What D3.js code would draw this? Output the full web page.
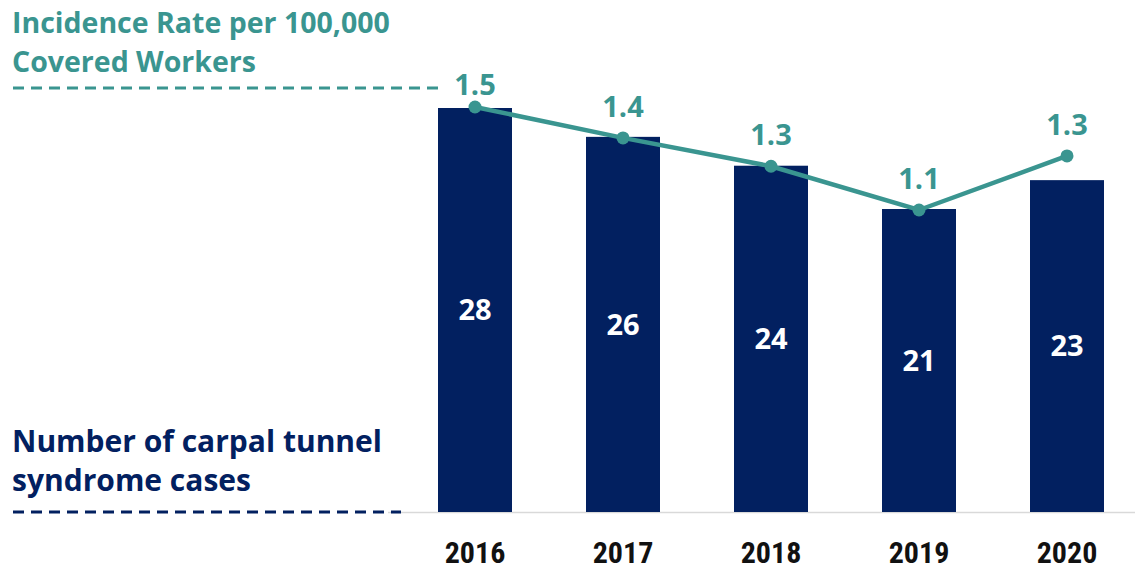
<!DOCTYPE html>
<html lang="en">
<head>
  <meta charset="UTF-8">
  <title>Carpal tunnel syndrome cases</title>
  <script src="https://d3js.org/d3.v7.min.js"></script>
  <style>
    body { margin: 0; background: #fff; }
    svg text { font-family: "Open Sans", sans-serif; font-weight: bold; }
    .year { font-family: "Liberation Sans Narrow", "Roboto Condensed", sans-serif; font-stretch: condensed; }
  </style>
</head>
<body>
  <svg id="chart" width="1135" height="569"></svg>
  <script>
    // data
    const years = ["2016", "2017", "2018", "2019", "2020"];
    const cases = [28, 26, 24, 21, 23];
    const rates = [1.5, 1.38, 1.27, 1.1, 1.31];

    const navy = "#022060";
    const teal = "#3A9590";

    const svg = d3.select("#chart");
    const baseY = 512;

    const x = d3.scaleBand()
      .domain(years)
      .range([401, 1141])
      .paddingInner(0.5)
      .paddingOuter(0.25);

    // bars: 0 at baseline, ~14.43 px per case
    const y = d3.scaleLinear().domain([0, 28]).range([baseY, 108]);
    // line has its own scale
    const yRate = d3.scaleLinear().domain([1.1, 1.5]).range([210, 107]);

    // baseline
    svg.append("line")
      .attr("x1", 388).attr("x2", 1135)
      .attr("y1", baseY + 0.5).attr("y2", baseY + 0.5)
      .attr("stroke", "#d9d9d9").attr("stroke-width", 1.5);

    svg.selectAll(".bar")
      .data(cases)
      .enter().append("rect")
      .attr("class", "bar")
      .attr("x", (d, i) => x(years[i]))
      .attr("width", x.bandwidth())
      .attr("y", d => y(d))
      .attr("height", d => baseY - y(d))
      .attr("fill", navy);

    svg.selectAll(".barLabel")
      .data(cases)
      .enter().append("text")
      .attr("class", "barLabel")
      .attr("x", (d, i) => x(years[i]) + x.bandwidth() / 2)
      .attr("y", d => (y(d) + baseY) / 2)
      .attr("dy", "0.35em")
      .attr("text-anchor", "middle")
      .attr("fill", "#fff")
      .attr("font-size", 29)
      .text(d => d);

    // year axis labels
    svg.selectAll(".year")
      .data(years)
      .enter().append("text")
      .attr("class", "year")
      .attr("x", d => x(d) + x.bandwidth() / 2)
      .attr("y", 563)
      .attr("text-anchor", "middle")
      .attr("fill", "#111")
      .attr("font-size", 30)
      .text(d => d);

    // rate line
    const line = d3.line()
      .x((d, i) => x(years[i]) + x.bandwidth() / 2)
      .y(d => yRate(d));

    svg.append("path")
      .datum(rates)
      .attr("d", line)
      .attr("fill", "none")
      .attr("stroke", teal)
      .attr("stroke-width", 4.5);

    svg.selectAll(".dot")
      .data(rates)
      .enter().append("circle")
      .attr("cx", (d, i) => x(years[i]) + x.bandwidth() / 2)
      .attr("cy", d => yRate(d))
      .attr("r", 6.5)
      .attr("fill", teal);

    svg.selectAll(".rateLabel")
      .data(rates)
      .enter().append("text")
      .attr("class", "rateLabel")
      .attr("x", (d, i) => x(years[i]) + x.bandwidth() / 2)
      .attr("y", (d, i) => yRate(d) - (i === 0 ? 12 : 21))
      .attr("text-anchor", "middle")
      .attr("fill", teal)
      .attr("font-size", 29)
      .text(d => d.toFixed(1));

    // series titles with dashed leaders
    svg.append("text")
      .attr("x", 12).attr("y", 33)
      .attr("fill", teal).attr("font-size", 28.5)
      .text("Incidence Rate per 100,000");
    svg.append("text")
      .attr("x", 12).attr("y", 72)
      .attr("fill", teal).attr("font-size", 28.5)
      .text("Covered Workers");
    svg.append("line")
      .attr("x1", 13).attr("x2", 442)
      .attr("y1", 88).attr("y2", 88)
      .attr("stroke", teal).attr("stroke-width", 3)
      .attr("stroke-dasharray", "11,7");

    svg.append("text")
      .attr("x", 12).attr("y", 452)
      .attr("fill", navy).attr("font-size", 30)
      .text("Number of carpal tunnel");
    svg.append("text")
      .attr("x", 12).attr("y", 491)
      .attr("fill", navy).attr("font-size", 30)
      .text("syndrome cases");
    svg.append("line")
      .attr("x1", 13).attr("x2", 401)
      .attr("y1", 512).attr("y2", 512)
      .attr("stroke", navy).attr("stroke-width", 3)
      .attr("stroke-dasharray", "11,7");
  </script>
</body>
</html>
